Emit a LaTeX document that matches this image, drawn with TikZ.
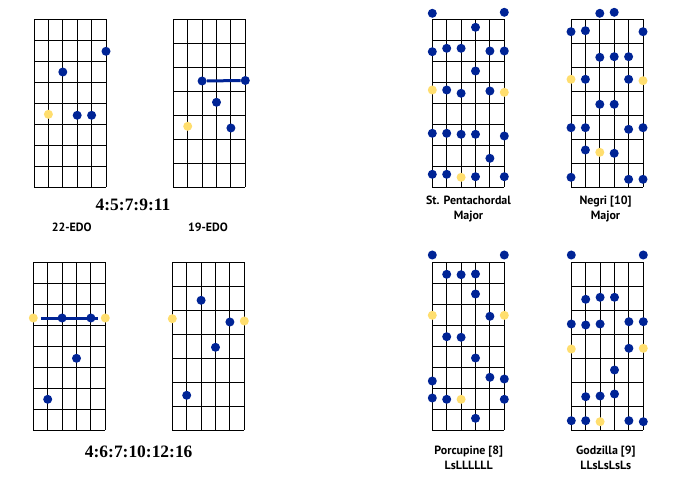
\documentclass[tikz,border=0pt]{standalone}
\usepackage{fontspec}
\usepackage{tikz}
\usetikzlibrary{positioning}
\newfontfamily\capfont{PT Sans}
\newfontfamily\ratiofont{Liberation Serif}
\definecolor{dotblue}{RGB}{0,36,150}
\definecolor{dotyellow}{RGB}{255,222,110}

% one fretboard: left edge, top edge, number of frets
\newcommand{\fretboard}[3]{%
  \pgfmathsetmacro{\fretstep}{168/#3}
  \foreach \s in {0,...,5}
    \draw[fret] ({#1+14.4*\s},{#2}) -- ({#1+14.4*\s},{#2+168});
  \foreach \f in {0,...,#3}
    \draw[fret] ({#1},{#2+\f*\fretstep}) -- ({#1+72},{#2+\f*\fretstep});
}
% dots: name prefix, left edge, style, list of string/height
\newcommand{\fretdots}[4]{%
  \foreach \s/\h [count=\i] in {#4}
    \node[#3] (#1\i) at ({#2+14.4*\s},\h) {};
}

\begin{document}
\begin{tikzpicture}[
  x=1bp,y=-1bp,
  fret/.style={draw=black, line width=0.9bp},
  bdot/.style={circle, fill=dotblue, inner sep=0pt, minimum size=9bp},
  ydot/.style={circle, fill=dotyellow, inner sep=0pt, minimum size=9bp},
  bar/.style={draw=dotblue, line width=3bp},
  ratio/.style={font=\ratiofont\bfseries\fontsize{17.5}{20}\selectfont},
  caption/.style={font=\capfont\bfseries\fontsize{12}{15}\selectfont, align=center}
]
\fill[white] (0,0) rectangle (688,484);
\useasboundingbox (0,0) rectangle (688,484);

% left half: chords
\fretboard{34}{19.3}{8}
\fretboard{173.3}{19.3}{7}
\fretboard{33.3}{262.3}{8}
\fretboard{172.3}{262.3}{7}

\fretdots{a}{34}{bdot}{5/51.3, 2/72, 3/115.3, 4/115.3}
\fretdots{ay}{34}{ydot}{1/114.3}

\fretdots{b}{173.3}{bdot}{2/81, 5/80.5, 3/102.3, 4/128}
\fretdots{by}{173.3}{ydot}{1/126.3}
\draw[bar] (b1) -- (b2);

\fretdots{c}{33.3}{bdot}{2/318, 4/318, 3/358.3, 1/399.3}
\fretdots{cy}{33.3}{ydot}{0/318, 5/318}
\draw[bar, shorten <=3bp, shorten >=3bp] (cy1) -- (cy2);

\fretdots{d}{172.3}{bdot}{2/300.3, 4/322, 3/347.3, 1/395.3}
\fretdots{dy}{172.3}{ydot}{0/318.7, 5/321}

\node[ratio] (top ratio) at (133,205) {4:5:7:9:11};
\node[caption] (edo22) at (71.7,227) {22-EDO};
\node[caption] (edo19) at (208,227) {19-EDO};
\node[ratio] (bottom ratio) at (138.7,452.3) {4:6:7:10:12:16};

% right half: scales
\fretboard{432.3}{19.3}{8}
\fretboard{571}{19.3}{7}
\fretboard{432.3}{262.3}{8}
\fretboard{571.3}{262.3}{7}

\fretdots{e}{432.3}{bdot}{0/13.3, 5/12.3, 3/27.3, 0/51.7, 1/48.3, 2/48.3, 4/51, 5/51, 3/71,
  1/90, 2/93.3, 4/91, 0/133.3, 1/133.3, 2/134.3, 3/134.3, 5/136, 4/158.3,
  0/174.3, 1/174.3, 3/176.7, 5/176.7}
\fretdots{ey}{432.3}{ydot}{0/90, 5/92.3, 2/177.3}

\fretdots{f}{571}{bdot}{2/13.3, 3/12.3, 0/31.7, 1/30.7, 5/31.7, 2/57.3, 3/56.7, 4/56.7,
  1/79.3, 4/79.3, 2/104.3, 3/104.3, 0/127.7, 1/127.7, 4/129.3, 5/127.7,
  1/150, 3/153.3, 0/177.3, 4/179.3, 5/179.3}
\fretdots{fy}{571}{ydot}{0/79.3, 5/80.7, 2/152.3}

\fretdots{g}{432.3}{bdot}{0/255, 5/255, 1/274.3, 2/274.7, 3/274, 3/294, 4/316.3,
  1/336.7, 2/337.3, 3/358, 0/381, 4/377.3, 5/379, 0/398, 1/399.3, 5/399.3, 3/418.3}
\fretdots{gy}{432.3}{ydot}{0/315.3, 5/315.3, 2/399.3}

\fretdots{h}{571.3}{bdot}{0/255, 5/255, 1/299.3, 2/297.3, 3/297.3, 0/324, 1/325, 2/324,
  4/321.7, 5/321.7, 4/348.3, 3/370, 1/396.7, 2/396, 3/394,
  0/420.7, 1/420.7, 4/420.7, 5/421.7}
\fretdots{hy}{571.3}{ydot}{0/349, 5/348.3, 2/421.7}

\node[caption] (pent) at (468.5,209.2) {St. Pentachordal\\Major};
\node[caption] (negri) at (605.5,209.2) {Negri [10]\\Major};
\node[caption] (porc) at (468.7,457.8) {Porcupine [8]\\LsLLLLLL};
\node[caption] (godz) at (605.8,457.8) {Godzilla [9]\\LLsLsLsLs};
\end{tikzpicture}
\end{document}
